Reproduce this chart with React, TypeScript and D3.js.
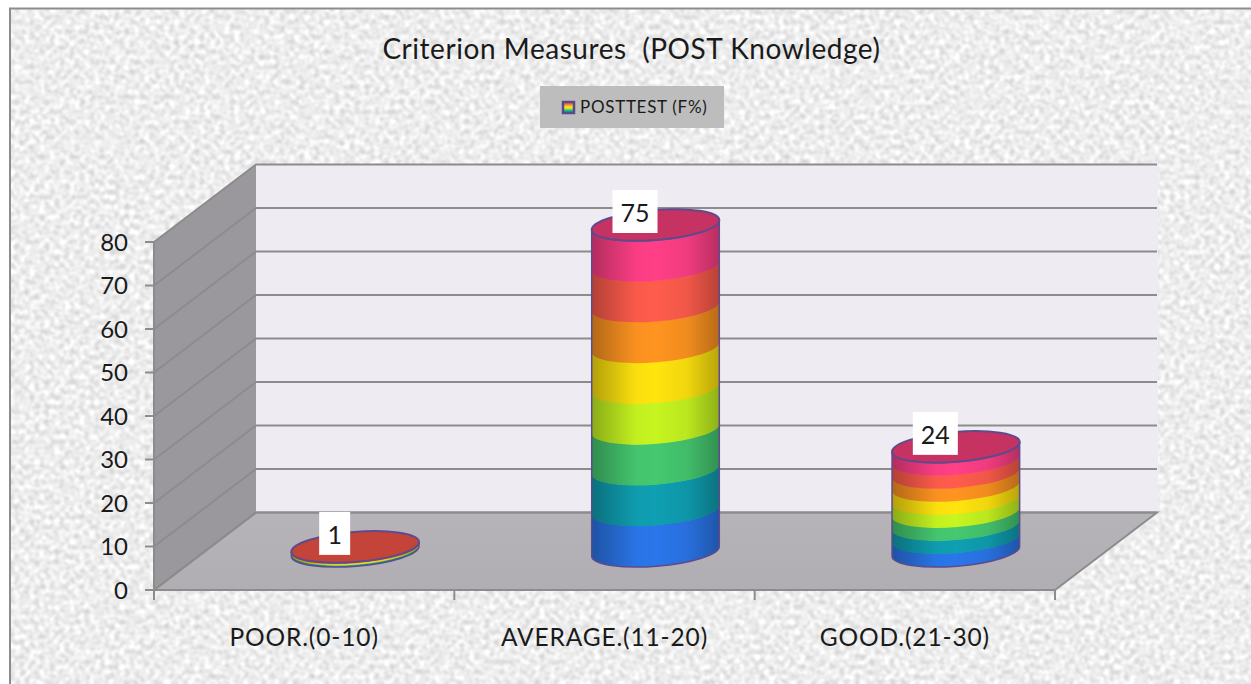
import React from "react";
import * as d3 from "d3";

const title = "Criterion Measures  (POST Knowledge)";
const seriesName = "POSTTEST (F%)";
const categories = ["POOR.(0-10)", "AVERAGE.(11-20)", "GOOD.(21-30)"];
const values = [1, 75, 24];
const topColors = ["#c5443a", "#c63262", "#c63262"];
const yTicks = [0, 10, 20, 30, 40, 50, 60, 70, 80];
const bandColors = ["#2a76ea", "#0f9fb2", "#45c870", "#c6f520", "#ffe40e", "#ff9420", "#ff5c4c", "#ff3f86"];

const W = 1251, H = 684;
const front = { x0: 154, x1: 1055, y0: 590, y1: 242 };
const depth = { dx: 102, dy: -77.5 };
const x = d3.scaleBand<string>().domain(categories).range([front.x0, front.x1]);
const y = d3.scaleLinear().domain([0, 80]).range([front.y0, front.y1]);
const RX = 64, RY = 15, TILT = -4.6;
const FONT = "Lato, 'Open Sans', sans-serif";
const INK = "#1a1a1a";
const rad = (TILT * Math.PI) / 180;
const ex = RX * Math.cos(rad), ey = RX * Math.sin(rad);

function bandPath(cx: number, yBot: number, yTop: number) {
  return `M${cx - ex},${yBot - ey} A${RX},${RY} ${TILT} 0 0 ${cx + ex},${yBot + ey} L${cx + ex},${yTop + ey} A${RX},${RY} ${TILT} 0 1 ${cx - ex},${yTop - ey} Z`;
}

export default function App() {
  return (
    <svg width={W} height={H} viewBox={`0 0 ${W} ${H}`} style={{ position: "absolute", left: 0, top: 0 }}>
      <defs>
        <filter id="paper" x="0" y="0" width="100%" height="100%" colorInterpolationFilters="sRGB">
          <feTurbulence type="fractalNoise" baseFrequency="0.2" numOctaves={3} seed={7} />
          <feGaussianBlur stdDeviation={0.8} />
          <feColorMatrix type="matrix" values="0.38 0 0 0 0.74  0.38 0 0 0 0.74  0.38 0 0 0 0.74  0 0 0 0 1" />
        </filter>
        <linearGradient id="shade" x1="0" x2="1" y1="0" y2="0">
          <stop offset="0" stopColor="#000" stopOpacity={0.3} />
          <stop offset="0.35" stopColor="#000" stopOpacity={0.02} />
          <stop offset="0.5" stopColor="#000" stopOpacity={0} />
          <stop offset="0.75" stopColor="#000" stopOpacity={0.06} />
          <stop offset="1" stopColor="#000" stopOpacity={0.28} />
        </linearGradient>
        <linearGradient id="swatch" x1="0" x2="0" y1="0" y2="1">
          {[...bandColors].reverse().map((c, i) => (
            <stop key={c} offset={i / (bandColors.length - 1)} stopColor={c} />
          ))}
        </linearGradient>
        <linearGradient id="floor" x1="0" x2="0" y1="0" y2="1">
          <stop offset="0" stopColor="#b6b4b8" />
          <stop offset="1" stopColor="#b0aeb2" />
        </linearGradient>
      </defs>

      <rect width={W} height={H} fill="#fff" />
      <rect x={9} y={8} width={W - 9} height={H - 8} filter="url(#paper)" />
      <path d={`M10,${H} V8.5 H${W}`} fill="none" stroke="#8c8c8c" strokeWidth={2} />

      <text x={631.5} y={59} textAnchor="middle" fontFamily={FONT} fontSize={28} letterSpacing={0.55} fill={INK} style={{ whiteSpace: "pre" }}>{title}</text>

      <rect x={540} y={86} width={184} height={42} fill="#bdbdbd" />
      <rect x={563} y={102} width={11} height={11} fill="url(#swatch)" stroke="#5b4a8a" strokeWidth={2.5} />
      <text x={580} y={113} fontFamily={FONT} fontSize={17} letterSpacing={0.7} fill={INK}>{seriesName}</text>

      {/* walls */}
      <rect x={front.x0 + depth.dx} y={y(80) + depth.dy} width={front.x1 - front.x0 + 1} height={y(0) - y(80)} fill="#eeecf2" />
      <polygon
        points={`${front.x0},${y(0)} ${front.x0},${y(80)} ${front.x0 + depth.dx},${y(80) + depth.dy} ${front.x0 + depth.dx},${y(0) + depth.dy}`}
        fill="#9a989c"
      />
      <polygon
        points={`${front.x0},${y(0)} ${front.x0 + depth.dx},${y(0) + depth.dy} ${front.x1 + depth.dx},${y(0) + depth.dy} ${front.x1},${y(0)}`}
        fill="url(#floor)"
        stroke="#8c8c8c"
        strokeWidth={2}
      />
      {yTicks.map((t) => (
        <path
          key={t}
          d={`M${front.x0 - 9},${y(t)} H${front.x0} L${front.x0 + depth.dx},${y(t) + depth.dy} H${front.x1 + depth.dx}`}
          stroke="#8c8c8c"
          strokeWidth={2}
          fill="none"
        />
      ))}
      <path d={`M${front.x0},${y(80)} V${front.y0 + 10}`} stroke="#8c8c8c" strokeWidth={2} fill="none" />
      {categories.map((c) => (
        <path key={c} d={`M${x(c)! + x.bandwidth()},${front.y0} v10`} stroke="#8c8c8c" strokeWidth={2} fill="none" />
      ))}

      {yTicks.map((t) => (
        <text key={t} x={128} y={y(t) + 8.5} textAnchor="end" fontFamily={FONT} fontSize={24} fill={INK}>{t}</text>
      ))}
      {categories.map((c) => (
        <text key={c} x={x(c)! + x.bandwidth() / 2} y={646} textAnchor="middle" fontFamily={FONT} fontSize={24.5} letterSpacing={0.85} fill={INK}>{c}</text>
      ))}

      {/* cylinders */}
      {categories.map((c, i) => {
        const cx = x(c)! + x.bandwidth() / 2 + depth.dx / 2;
        const base = y(0) + depth.dy / 2;
        const top = y(values[i]) + depth.dy / 2;
        const step = (base - top) / bandColors.length;
        return (
          <g key={c}>
            {bandColors.map((col, k) => (
              <path
                key={col}
                d={bandPath(cx, base - k * step, k === bandColors.length - 1 ? top : base - (k + 1) * step - 0.5)}
                fill={col}
              />
            ))}
            <path d={bandPath(cx, base, top)} fill="url(#shade)" stroke="#5f4a8c" strokeWidth={1.5} />
            <ellipse cx={cx} cy={top} rx={RX} ry={RY} transform={`rotate(${TILT} ${cx} ${top})`} fill={topColors[i]} stroke="#5f4a8c" strokeWidth={2} />
          </g>
        );
      })}

      {/* data labels */}
      {categories.map((c, i) => {
        const cx = x(c)! + x.bandwidth() / 2 + depth.dx / 2;
        const top = y(values[i]) + depth.dy / 2;
        const label = String(values[i]);
        const wide = label.length > 1;
        const w = wide ? 45 : 31;
        const bx = cx - (wide ? 43 : 36);
        return (
          <g key={c}>
            <rect x={bx} y={top - 35} width={w} height={43} fill="#fff" />
            <text x={bx + w / 2} y={top - 3} textAnchor="middle" fontFamily={FONT} fontSize={25} fill={INK}>{label}</text>
          </g>
        );
      })}
    </svg>
  );
}
